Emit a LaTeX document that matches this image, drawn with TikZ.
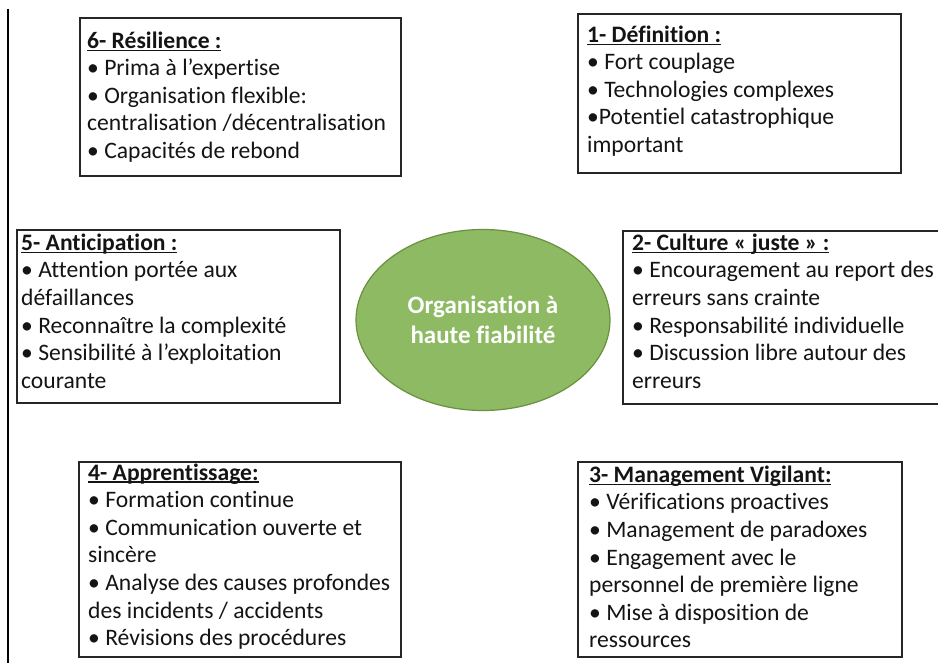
\documentclass[tikz,border=0pt]{standalone}
\usepackage{fontspec}
\setmainfont{Carlito}[Ligatures=NoCommon]
\usetikzlibrary{shapes.geometric}
\definecolor{ovalfill}{RGB}{141,186,98}
\definecolor{ovaldraw}{RGB}{105,145,65}
\newcommand\ulbf[1]{\setbox0\hbox{\bfseries #1}\rlap{\rule[-3pt]{\wd0}{1.6pt}}\box0}
\newcommand\fl{\rule{0pt}{19.3pt}}
\tikzset{
  box/.style={draw=black!85, line width=2pt, anchor=north west, inner sep=0pt},
  txt/.style={anchor=north west, inner sep=0pt, align=left,
    font=\fontsize{23.6}{27.6}\selectfont, text=black!92},
  oval/.style={ellipse, fill=ovalfill, draw=ovaldraw, line width=1.2pt,
    minimum width=254pt, minimum height=181pt, align=center, text=white,
    font=\bfseries\fontsize{25}{30}\selectfont}
}
\begin{document}
\begin{tikzpicture}[x=1pt,y=-1pt]
\useasboundingbox (0,0) rectangle (938,663);
\clip (0,0) rectangle (938,663);
\fill[white] (0,0) rectangle (938,663);
% left vertical rule
\coordinate (vtop) at (8,9);
\coordinate (vbot) at (8,663);
\draw[line width=1.6pt, black] (vtop) -- (vbot);
% boxes
\node[box, minimum width=321pt, minimum height=158pt] (b6) at (79,17) {};
\node[box, minimum width=323pt, minimum height=159pt] (b1) at (577,13) {};
\node[box, minimum width=323pt, minimum height=173pt] (b5) at (16,229) {};
\node[box, minimum width=330pt, minimum height=173pt] (b2) at (622,230) {};
\node[box, minimum width=322pt, minimum height=195pt] (b4) at (78,461) {};
\node[box, minimum width=324pt, minimum height=195pt] (b3) at (577,461) {};
% texts
\node[txt] (t6) at (87,28.7) {\fl\ulbf{6- Résilience :}\\
• Prima à l’expertise\\
• Organisation flexible:\\
centralisation /décentralisation\\
• Capacités de rebond};
\node[txt] (t1) at (587,22.7) {\fl\ulbf{1- Définition :}\\
• Fort couplage\\
• Technologies complexes\\
•Potentiel catastrophique\\
important};
\node[txt] (t5) at (21,230.7) {\fl\ulbf{5- Anticipation :}\\
• Attention portée aux\\
défaillances\\
• Reconnaître la complexité\\
• Sensibilité à l’exploitation\\
courante};
\node[txt] (t2) at (632,230.7) {\fl\ulbf{2- Culture « juste » :}\\
• Encouragement au report des\\
erreurs sans crainte\\
• Responsabilité individuelle\\
• Discussion libre autour des\\
erreurs};
\node[txt] (t4) at (88,460.5) {\fl\ulbf{4- Apprentissage:}\\
• Formation continue\\
• Communication ouverte et\\
sincère\\
• Analyse des causes profondes\\
des incidents / accidents\\
• Révisions des procédures};
\node[txt] (t3) at (589,462.7) {\fl\ulbf{3- Management Vigilant:}\\
• Vérifications proactives\\
• Management de paradoxes\\
• Engagement avec le\\
personnel de première ligne\\
• Mise à disposition de\\
ressources};
% centre
\node[oval] (c) at (483,320) {Organisation à\\haute fiabilité};
\end{tikzpicture}
\end{document}
